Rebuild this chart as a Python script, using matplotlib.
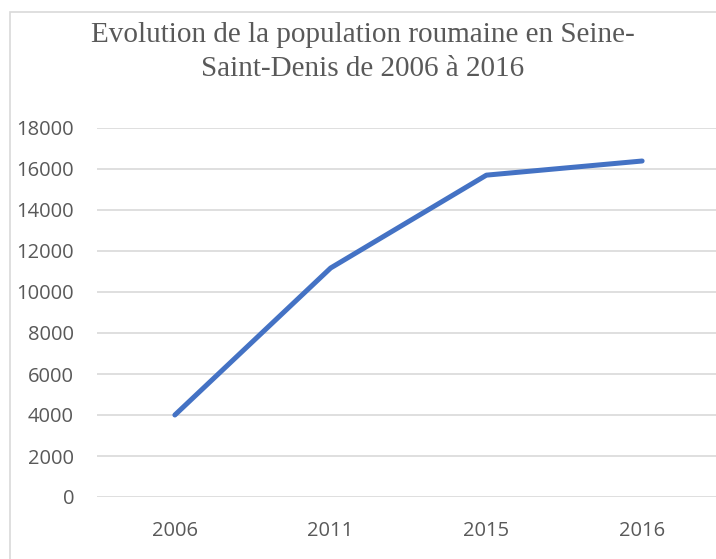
# -*- coding: utf-8 -*-

import matplotlib
matplotlib.use('Agg')
import matplotlib.pyplot as plt
from matplotlib.patches import Rectangle

# data
years = ['2006', '2011', '2015', '2016']
population = [4000, 11170, 15700, 16390]
yticks = [0, 2000, 4000, 6000, 8000, 10000, 12000, 14000, 16000, 18000]
title = 'Evolution de la population roumaine en Seine-\nSaint-Denis de 2006 à 2016'

W, H = 716, 559
fig = plt.figure(figsize=(W / 100, H / 100), dpi=100)
fig.patch.set_facecolor('white')

# chart frame (cut by the right and bottom edge of the picture)
frame = Rectangle((10 / W, -0.05), 1.0, (H - 12) / H + 0.05, transform=fig.transFigure,
                  fill=False, edgecolor='#d9d9d9', linewidth=1.2)
fig.patches.append(frame)

ax = fig.add_axes([97 / W, 62 / H, 623 / W, 369 / H])
x = list(range(len(years)))
ax.plot(x, population, color='#4472C4', linewidth=3.6, solid_capstyle='round',
        solid_joinstyle='round', zorder=3)

ax.set_xlim(-0.5, len(years) - 0.5)
ax.set_ylim(0, 18000)
ax.set_yticks(yticks)
ax.set_xticks(x)
ax.set_xticklabels(years)
ax.set_yticklabels([str(v) for v in yticks])

for s in ax.spines.values():
  s.set_visible(False)
ax.grid(True, axis='y', color='#d9d9d9', linewidth=1.2)
ax.set_axisbelow(True)
ax.tick_params(axis='both', length=0, labelsize=14.5, labelcolor='#595959')
ax.tick_params(axis='y', pad=16.5)
ax.tick_params(axis='x', pad=17)
for lab in ax.get_xticklabels() + ax.get_yticklabels():
  lab.set_fontfamily('Open Sans')

fig.text(363 / W, (H - 52) / H, title, ha='center', va='center', fontsize=21,
         family='Liberation Serif', color='#595959', linespacing=1.38)

fig.savefig('out.png', dpi=100)
